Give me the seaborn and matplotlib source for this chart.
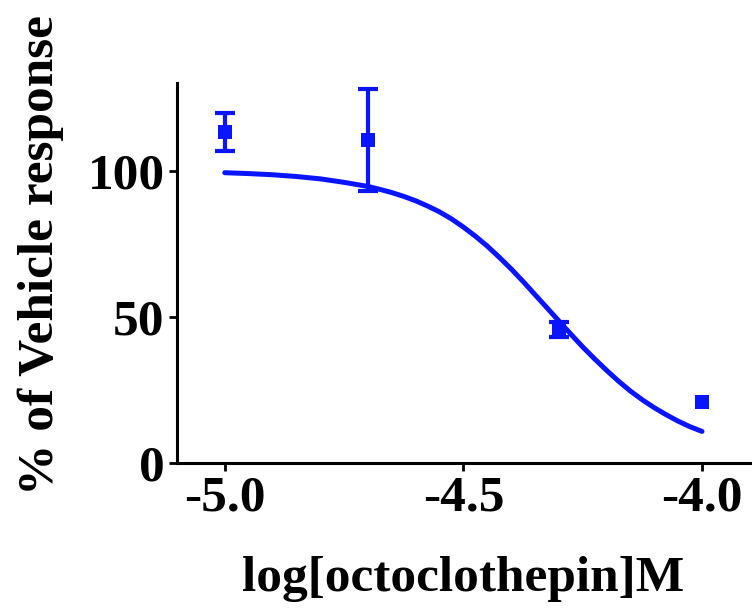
import numpy as np
import pandas as pd
import matplotlib
matplotlib.use("Agg")
import matplotlib.pyplot as plt
import seaborn as sns

# Data points (mean ± SEM)
log_conc = [-5.0, -4.7, -4.3, -4.0]
response = [113.3, 110.6, 45.7, 20.8]
sem = [6.5, 17.4, 2.6, 0.0]

# Fitted curve
curve_x = [-5.0, -4.95, -4.9, -4.85, -4.8, -4.75, -4.7, -4.675, -4.65, -4.625, -4.6,
           -4.575, -4.55, -4.525, -4.5, -4.475, -4.45, -4.425, -4.4, -4.375, -4.35,
           -4.325, -4.3, -4.275, -4.25, -4.225, -4.2, -4.175, -4.15, -4.125, -4.1,
           -4.075, -4.05, -4.025, -4.0]
curve_y = [99.3, 99.0, 98.6, 98.0, 97.2, 96.0, 94.6, 93.6, 92.5, 91.2, 89.7,
           87.9, 85.9, 83.5, 80.7, 77.6, 74.2, 70.4, 66.4, 62.1, 57.6,
           53.1, 48.6, 44.1, 39.7, 35.6, 31.7, 28.0, 24.6, 21.6, 18.9,
           16.5, 14.3, 12.4, 10.8]

x_ticks = [-5.0, -4.5, -4.0]
x_ticklabels = ["-5.0", "-4.5", "-4.0"]
y_ticks = [0, 50, 100]

sns.set_style("ticks")
plt.rcParams['font.family'] = ['Liberation Serif', 'DejaVu Serif']
plt.rcParams['font.weight'] = 'bold'

blue = "#0a14ff"

fig = plt.figure(figsize=(7.52, 6.10), dpi=100)
ax = fig.add_axes([0.2354, 0.241, 0.7616, 0.623])

pts = pd.DataFrame({"x": log_conc, "y": response})
crv = pd.DataFrame({"x": curve_x, "y": curve_y})

sns.lineplot(data=crv, x="x", y="y", ax=ax, color=blue, linewidth=3.6, sort=True)
ax.errorbar(log_conc[:3], response[:3], yerr=sem[:3], fmt="none", ecolor=blue,
            elinewidth=3, capsize=7, capthick=3, zorder=3)
sns.scatterplot(data=pts, x="x", y="y", ax=ax, color=blue, marker="s", s=110,
                edgecolor=blue, linewidth=0, zorder=4)

ax.set_xlim(-5.1, -3.9)
ax.set_ylim(0, 130)
ax.set_xticks(x_ticks)
ax.set_xticklabels(x_ticklabels)
ax.set_yticks(y_ticks)

sns.despine(ax=ax)
for s in ["left", "bottom"]:
    ax.spines[s].set_linewidth(2.2)
    ax.spines[s].set_color("black")
ax.tick_params(axis="both", length=6, width=2, labelsize=37, colors="black",
               labelcolor="black", pad=3)
for lab in ax.get_xticklabels() + ax.get_yticklabels():
    lab.set_fontweight("bold")

ax.set_xlabel("log[octoclothepin]M", fontsize=37, fontweight="bold",
              color="black", labelpad=25)
ax.set_ylabel("% of Vehicle response", fontsize=37, fontweight="bold",
              color="black", labelpad=17)
ax.yaxis.label.set_y(0.547)

fig.savefig("out.png", dpi=100)
